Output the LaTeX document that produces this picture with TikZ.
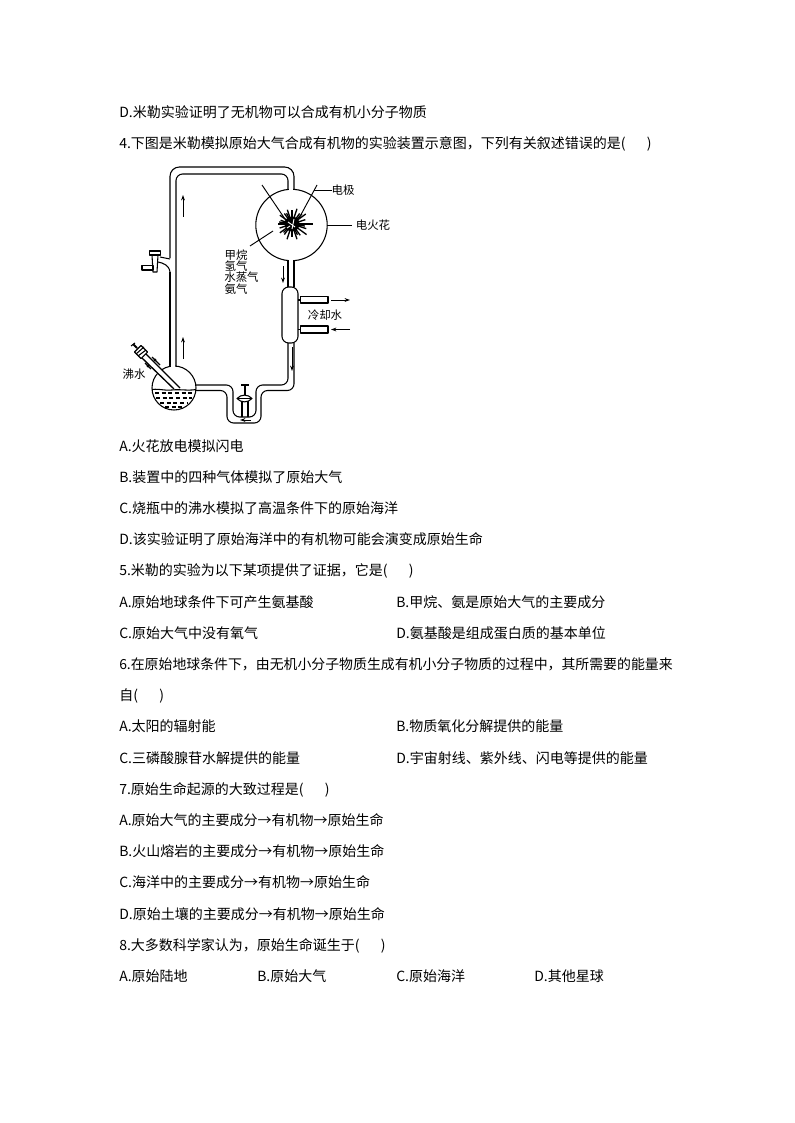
\documentclass[tikz,border=0pt]{standalone}
\usepackage{fontspec}
\setmainfont{Liberation Serif}
\newfontfamily\cjk{Noto Sans CJK SC}
\usetikzlibrary{arrows.meta}
\tikzset{
 txt/.style={anchor=base west,inner sep=0pt,font=\cjk\fontsize{10.5pt}{12pt}\selectfont},
 lab/.style={inner sep=0pt,font=\cjk\fontsize{8.6pt}{10pt}\selectfont},
 tube/.style={line width=0.8pt,black,line join=round},
 thinline/.style={line width=0.7pt,black},
 flow/.style={line width=0.7pt,black,-{Stealth[length=4pt,width=2.8pt]}},
}
\newcommand{\gapp}{(\hspace{16pt})}
\begin{document}
\begin{tikzpicture}[x=0.75pt,y=-0.75pt]
\useasboundingbox (0,0) rectangle (794,1123);
\fill[white] (0,0) rectangle (794,1123);
% text lines
\node[txt] (t1) at (119,118) {D.米勒实验证明了无机物可以合成有机小分子物质};
\node[txt] (t2) at (119,149) {4.下图是米勒模拟原始大气合成有机物的实验装置示意图，下列有关叙述错误的是\gapp};
\node[txt] (a1) at (119,451) {A.火花放电模拟闪电};
\node[txt] (a2) at (119,482) {B.装置中的四种气体模拟了原始大气};
\node[txt] (a3) at (119,513) {C.烧瓶中的沸水模拟了高温条件下的原始海洋};
\node[txt] (a4) at (119,544) {D.该实验证明了原始海洋中的有机物可能会演变成原始生命};
\node[txt] (q5) at (119,575) {5.米勒的实验为以下某项提供了证据，它是\gapp};
\node[txt] (b1) at (119,607) {A.原始地球条件下可产生氨基酸};
\node[txt] (b2) at (396,607) {B.甲烷、氨是原始大气的主要成分};
\node[txt] (b3) at (119,638) {C.原始大气中没有氧气};
\node[txt] (b4) at (396,638) {D.氨基酸是组成蛋白质的基本单位};
\node[txt,font=\cjk\fontsize{10.42pt}{12pt}\selectfont] (q6) at (119,669) {6.在原始地球条件下，由无机小分子物质生成有机小分子物质的过程中，其所需要的能量来};
\node[txt] (q6b) at (119,700) {自\gapp};
\node[txt] (c1) at (119,731) {A.太阳的辐射能};
\node[txt] (c2) at (396,731) {B.物质氧化分解提供的能量};
\node[txt] (c3) at (119,763) {C.三磷酸腺苷水解提供的能量};
\node[txt] (c4) at (396,763) {D.宇宙射线、紫外线、闪电等提供的能量};
\node[txt] (q7) at (119,794) {7.原始生命起源的大致过程是\gapp};
\node[txt] (d1) at (119,825) {A.原始大气的主要成分→有机物→原始生命};
\node[txt] (d2) at (119,856) {B.火山熔岩的主要成分→有机物→原始生命};
\node[txt] (d3) at (119,887) {C.海洋中的主要成分→有机物→原始生命};
\node[txt] (d4) at (119,919) {D.原始土壤的主要成分→有机物→原始生命};
\node[txt] (q8) at (119,950) {8.大多数科学家认为，原始生命诞生于\gapp};
\node[txt] (e1) at (119,981) {A.原始陆地};
\node[txt] (e2) at (257,981) {B.原始大气};
\node[txt] (e3) at (396,981) {C.原始海洋};
\node[txt] (e4) at (534,981) {D.其他星球};
% upper tube
\draw[tube,rounded corners=5pt] (288,191) -- (288,174) -- (176,174) -- (176,367);
\draw[tube,rounded corners=7pt] (294,190) -- (294,167) -- (170,167) -- (170,258);
\draw[tube] (170,272) -- (170,368);
% sphere
\draw[tube,fill=white] (291.5,225) circle[radius=35.7];
\draw[white,line width=1.6pt] (288.6,189.5) -- (293.4,189.5) (288.6,260.5) -- (293.4,260.5);
% tube below sphere, U-trap
\draw[tube] (288,261) -- (288,287) (294,261) -- (294,287);
\draw[tube,rounded corners=5pt] (288,343) -- (288,385) -- (256,385) -- (256,417) -- (233,417) -- (233,385) -- (195,385);
\draw[tube,rounded corners=5pt] (294,343) -- (294,390.5) -- (261,390.5) -- (261,423) -- (227,423) -- (227,390.5) -- (195,390.5);
% condenser
\draw[tube,rounded corners=5pt] (282,287) rectangle (298,343);
\draw[tube] (298,300) -- (301,300) (298,329.5) -- (301,329.5);
\draw[tube,fill=white] (300.5,296.5) rectangle (328,303);
\draw[tube,fill=white] (300.5,326) rectangle (328,333);
\draw[flow] (331,300) -- (350,300);
\draw[flow] (350,329.5) -- (331,329.5);
% flow arrows
\draw[flow] (183,217) -- (183,195);
\draw[flow] (183,359) -- (183,337);
\draw[flow] (283,266) -- (283,283);
\draw[flow] (292,347) -- (292,371);
\draw[flow] (251,420) -- (240,420);
% sphere interior
\draw[thinline] (262,185) -- (287,222);
\draw[thinline] (317,185) -- (297,222);
\foreach \a/\r in {0/21,18/15,36/18,54/14,72/16,90/13,108/16,126/13,144/15,162/13,180/14,198/12,216/15,234/13,252/15,270/14,288/16,306/13,324/17,342/14,9/13,63/12,135/12,189/13,243/12,315/14}{
  \draw[line width=1pt] (292,224) -- ++(\a:\r);
}
\fill[black] (292,224) circle[radius=7.5];
\draw[white,line width=0.7pt] (288,222) -- (295,227) (294,219) -- (292,229) (287,228) -- (290,226);
\draw[thinline] (250,246) -- (273,231);
\draw[thinline] (314,190) -- (332,190);
\draw[thinline] (327,225) -- (352,225);
% side stopcock
\draw[tube] (160,257) -- (170,259);
\draw[tube] (158,262) .. controls (163,263) and (169,265) .. (170,272);
\draw[tube,fill=white] (152,255) -- (158,255) -- (157,272) -- (153,272) -- cycle;
\draw[tube,fill=white] (142,265.5) rectangle (153,270);
\draw[tube,fill=white] (149.5,251) rectangle (160.5,255);
% flask
\draw[tube,fill=white] (174,388) circle[radius=22];
\draw[white,line width=1.6pt] (170.7,366) -- (175.3,366);
% liquid
\draw[tube] (152,389.5) .. controls (160,388.5) and (165,391) .. (172,390) .. controls (180,389) and (188,391) .. (196,389.5);
\foreach \y/\xa/\xb in {393/155/193,398/156/192,403/160/188,407/165/183}{
  \draw[line width=0.8pt,dash pattern=on 3pt off 2pt] (\xa,\y) -- (\xb,\y);
}
% side arm
\fill[white] (145,353) -- (180,388) -- (174,389) -- (142,358) -- cycle;
\draw[tube,line width=1pt] (145,353) -- (180,388) (142,358) -- (174,389);
\draw[tube,fill=white] (141,345.5) -- (147.5,352) -- (141,358.5) -- (134.5,352) -- cycle;
\draw[tube] (136,354) -- (144,347) (138,356) -- (146,350);
\draw[line width=1.4pt] (133,344) -- (137,348);
\draw[tube] (131,346) -- (135,343);
\draw[line width=1pt] (152,357) -- (160,365) (145,363) -- (151,369);
\fill[black] (155,360) circle[radius=1.6];
\fill[black] (148,366) circle[radius=1.6];
% lower stopcock
\draw[tube] (242,417) -- (242,401) (248,417) -- (248,401);
\draw[line width=1.2pt] (244.8,385) -- (244.8,396);
\draw[line width=1.4pt] (241,385) -- (249,385);
\draw[tube,fill=white] (237,398.5) .. controls (241,394) and (248,394) .. (252,398.5) .. controls (248,403) and (241,403) .. (237,398.5) -- cycle;
\draw[thinline] (238,398.5) -- (251,398.5);
% labels
\node[lab] (l1) at (343,190) {电极};
\node[lab] (l2) at (373,225) {电火花};
\node[lab] (l3) at (236,255) {甲烷};
\node[lab] (l4) at (236,266) {氢气};
\node[lab] (l5) at (241.5,277) {水蒸气};
\node[lab] (l6) at (236,289) {氨气};
\node[lab] (l7) at (325,315) {冷却水};
\node[lab] (l8) at (134,374) {沸水};
\end{tikzpicture}
\end{document}
